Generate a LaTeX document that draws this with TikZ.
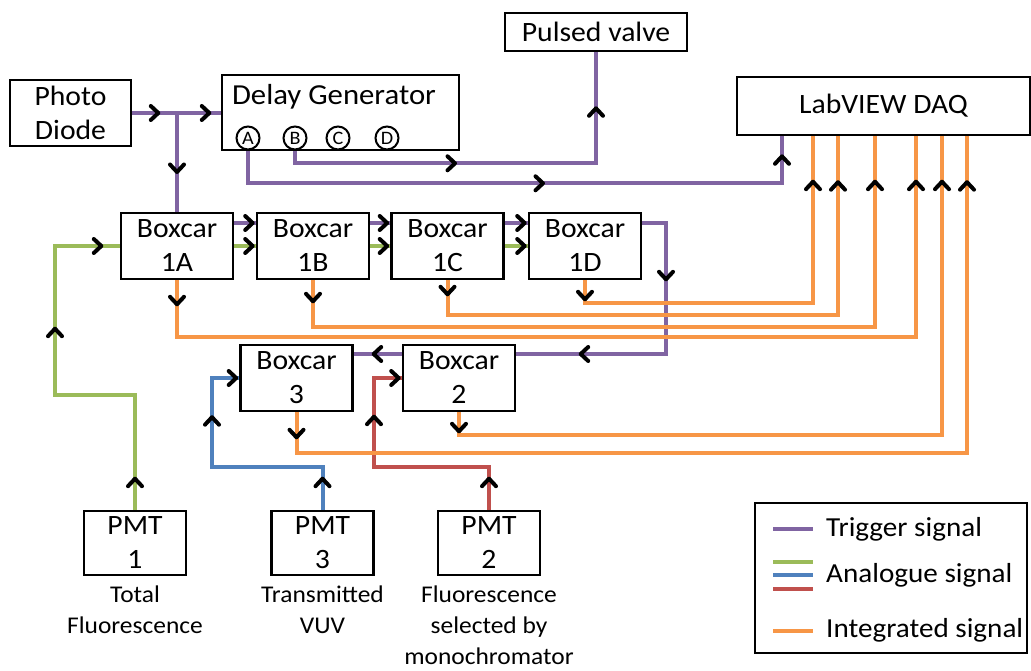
\documentclass[tikz,border=0pt]{standalone}
\usepackage{fontspec}
\setmainfont{Carlito}[FakeStretch=1.06]
\usetikzlibrary{decorations.markings,positioning}
\definecolor{trigcol}{HTML}{8064A2}
\definecolor{anagreen}{HTML}{9BBB59}
\definecolor{anablue}{HTML}{4F81BD}
\definecolor{anared}{HTML}{C0504D}
\definecolor{intcol}{HTML}{F79646}
\begin{document}
\begin{tikzpicture}[x=1pt, y=-1pt,
    box/.style={draw, line width=2.6pt, fill=white, inner sep=0pt, align=center,
        font=\fontsize{28}{34}\selectfont},
    boxcar/.style={box, minimum width=112pt, minimum height=66pt},
    pmtbox/.style={box, minimum width=102pt, minimum height=64pt},
    sig/.style={line width=4pt},
    chev/.style={postaction={decorate, decoration={markings,
        mark=at position #1 with {\draw[black, line width=4pt, line cap=round, line join=round]
            (-7.5pt,-7pt) -- (0pt,0pt) -- (-7.5pt,7pt);}}}},
    lbl/.style={inner sep=0pt, align=center, font=\fontsize{24}{31}\selectfont},
    legtxt/.style={inner sep=0pt, anchor=base west, font=\fontsize{27.5}{34}\selectfont}]
    \useasboundingbox (0,0) rectangle (1031,671);

    % 顶部
    \node[box, minimum width=121pt, minimum height=66pt] (diode) at (70.5,113) {Photo\\Diode};
    \node[box, minimum width=237pt, minimum height=75pt] (delay) at (340.5,112.5) {};
    \node[font=\fontsize{29}{34}\selectfont, inner sep=0pt] (delaytxt) at (334,97) {Delay Generator};
    \foreach \c/\x in {A/248, B/295, C/338, D/387}
        \node[circle, draw, line width=2pt, minimum size=23pt, inner sep=0pt,
            font=\fontsize{19}{19}\selectfont] (ch\c) at (\x,138) {\c};
    \node[box, minimum width=182pt, minimum height=38pt] (valve) at (596,32) {Pulsed valve};
    \node[box, minimum width=293pt, minimum height=58pt] (daq) at (883.5,106) {LabVIEW DAQ};

    % Boxcar
    \node[boxcar] (b1a) at (177,246) {Boxcar\\1A};
    \node[boxcar] (b1b) at (313,246) {Boxcar\\1B};
    \node[boxcar] (b1c) at (447.5,246) {Boxcar\\1C};
    \node[boxcar] (b1d) at (585,246) {Boxcar\\1D};
    \node[boxcar] (b3) at (296.5,378) {Boxcar\\3};
    \node[boxcar] (b2) at (459,378) {Boxcar\\2};

    % PMT
    \node[pmtbox] (pmt1) at (135,543) {PMT\\1};
    \node[pmtbox] (pmt3) at (322.5,543) {PMT\\3};
    \node[pmtbox] (pmt2) at (489,543) {PMT\\2};
    \node[lbl, below=9pt of pmt1] (lbl1) {Total\\Fluorescence};
    \node[lbl, below=9pt of pmt3] (lbl3) {Transmitted\\VUV};
    \node[lbl, below=9pt of pmt2] (lbl2) {Fluorescence\\selected by\\monochromator};

    % 触发信号
    \coordinate (split) at (b1a.north |- diode.east);
    \draw[sig, trigcol, chev=26pt, chev=77pt] (diode.east) -- (diode.east -| delay.west);
    \draw[sig, trigcol, chev=59pt] (split) -- (b1a.north);
    \draw[sig, trigcol, chev=327pt, chev=593pt] (chA |- delay.south) -- ++(0,32) -| (daq.south -| 782,0);
    \draw[sig, trigcol, chev=172pt, chev=368pt] (chB |- delay.south) -- ++(0,12) -| (valve.south);
    \draw[sig, trigcol, chev=-3pt] ([yshift=23pt]b1a.east) -- ([yshift=23pt]b1b.west);
    \draw[sig, trigcol, chev=-3pt] ([yshift=23pt]b1b.east) -- ([yshift=23pt]b1c.west);
    \draw[sig, trigcol, chev=-3pt] ([yshift=23pt]b1c.east) -- ([yshift=23pt]b1d.west);
    \draw[sig, trigcol, chev=80pt, chev=240pt] ([yshift=23pt]b1d.east) -| (666,354) -- ([yshift=24pt]b2.east);
    \draw[sig, trigcol, chev=28pt] ([yshift=24pt]b2.west) -- ([yshift=24pt]b3.east);

    % 模拟信号
    \draw[sig, anagreen, chev=-3pt] (b1a.east) -- (b1b.west);
    \draw[sig, anagreen, chev=-3pt] (b1b.east) -- (b1c.west);
    \draw[sig, anagreen, chev=-3pt] (b1c.east) -- (b1d.west);
    \draw[sig, anagreen, chev=31pt, chev=261pt, chev=390pt] (pmt1.north) |- (55,395) |- (b1a.west);
    \draw[sig, anablue, chev=31pt, chev=203pt, chev=-3pt] (pmt3.north) |- (212,467) |- (b3.west);
    \draw[sig, anared, chev=31pt, chev=208pt, chev=-3pt] (pmt2.north) |- (374,467) |- (b2.west);

    % 积分信号
    \draw[sig, intcol, chev=24pt, chev=951pt] (b1a.south) |- (916,337) -- (daq.south -| 916,0);
    \draw[sig, intcol, chev=21pt, chev=754pt] (b1b.south) |- (875,327) -- (daq.south -| 875,0);
    \draw[sig, intcol, chev=14pt, chev=558pt] (b1c.south) |- (838,315) -- (daq.south -| 838,0);
    \draw[sig, intcol, chev=19pt, chev=372pt] (b1d.south) |- (813,303) -- (daq.south -| 813,0);
    \draw[sig, intcol, chev=19pt, chev=759pt] (b2.south) |- (942,435) -- (daq.south -| 942,0);
    \draw[sig, intcol, chev=25pt, chev=982pt] (b3.south) |- (967,453) -- (daq.south -| 967,0);

    % 图例
    \node[draw, line width=2.6pt, minimum width=272pt, minimum height=150pt] (legend) at (891,578) {};
    \draw[sig, trigcol] (773,529) -- (813,529);
    \draw[sig, anagreen] (773,562) -- (813,562);
    \draw[sig, anablue] (773,575) -- (813,575);
    \draw[sig, anared] (773,589) -- (813,589);
    \draw[sig, intcol] (773,631) -- (813,631);
    \node[legtxt] (legtrig) at (826,536) {Trigger signal};
    \node[legtxt] (legana) at (826,582) {Analogue signal};
    \node[legtxt] (legint) at (826,637) {Integrated signal};
\end{tikzpicture}
\end{document}
